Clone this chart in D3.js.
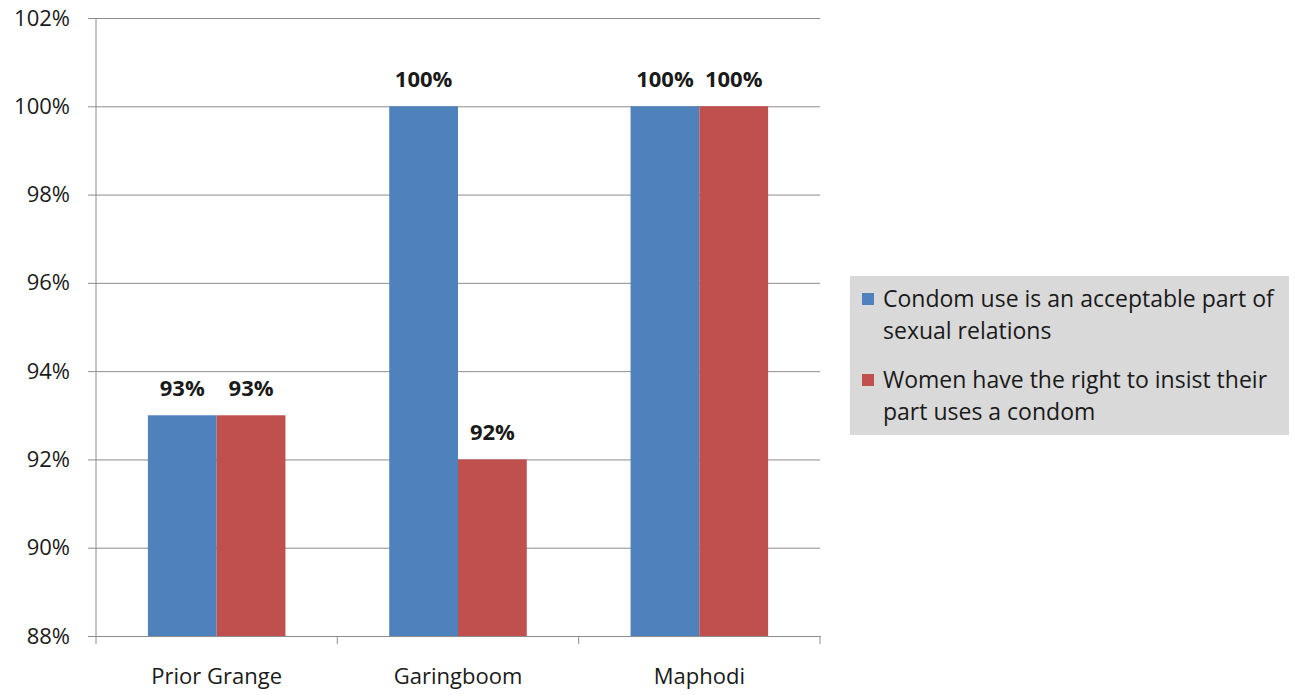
<!DOCTYPE html>
<html>
<head>
<meta charset="utf-8">
<script src="https://cdn.jsdelivr.net/npm/d3@7"></script>
<style>
  body { margin: 0; background: #fff; }
  text { font-family: "Open Sans", sans-serif; fill: #1a1a1a; }
</style>
</head>
<body>
<div id="chart"></div>
<script>
// data
const categories = ["Prior Grange", "Garingboom", "Maphodi"];
const seriesNames = ["Condom use is an acceptable part of sexual relations",
                     "Women have the right to insist their part uses a condom"];
const legendLines = [["Condom use is an acceptable part of", "sexual relations"],
                     ["Women have the right to insist their", "part uses a condom"]];
const condomAcceptable = [0.93, 1.00, 1.00];
const womenInsist = [0.93, 0.92, 1.00];
const yTicks = [0.88, 0.90, 0.92, 0.94, 0.96, 0.98, 1.00, 1.02];
const colors = ["#4f81bd", "#c0504d"];

const series = [condomAcceptable, womenInsist];

const margins = { top: 18, right: 477, bottom: 59, left: 96 };
const width = 1297 - margins.left - margins.right;
const height = 695 - margins.top - margins.bottom;

const svg = d3.select("#chart").append("svg")
    .attr("width", 1297)
    .attr("height", 695);

const g = svg.append("g")
    .attr("transform", "translate(" + margins.left + "," + margins.top + ")");

const xScale = d3.scaleBand()
    .domain(categories)
    .range([0, width])
    .paddingInner(0)
    .paddingOuter(0);

const inner = d3.scaleBand()
    .domain([0, 1])
    .range([xScale.bandwidth() * 0.215, xScale.bandwidth() * 0.785]);

const yScale = d3.scaleLinear()
    .domain([0.88, 1.02])
    .range([height, 0]);

// gridlines + y ticks
g.append("g")
    .call(d3.axisLeft(yScale).tickValues(yTicks).tickSize(-width - 8).tickFormat(d3.format(".0%")))
    .call(ax => ax.select(".domain").remove())
    .call(ax => ax.selectAll(".tick line").attr("stroke", "#8c8c8c").attr("x1", -8).attr("x2", width))
    .call(ax => ax.selectAll(".tick text").attr("x", -26).style("font-size", "22px")
        .style("font-family", "'Open Sans', sans-serif").attr("fill", "#1a1a1a"));

// bars
series.forEach((vals, si) => {
    g.selectAll(".bar" + si)
        .data(vals)
        .enter()
        .append("rect")
        .attr("x", (d, i) => xScale(categories[i]) + inner(si))
        .attr("width", inner.bandwidth())
        .attr("y", d => yScale(d))
        .attr("height", d => height - yScale(d))
        .attr("fill", colors[si]);

    g.selectAll(".lbl" + si)
        .data(vals)
        .enter()
        .append("text")
        .attr("x", (d, i) => xScale(categories[i]) + inner(si) + inner.bandwidth() / 2)
        .attr("y", d => yScale(d) - 19)
        .attr("text-anchor", "middle")
        .style("font-size", "22px")
        .style("font-weight", "bold")
        .text(d => d3.format(".0%")(d));
});

// y axis line
g.append("line")
    .attr("x1", 0).attr("x2", 0)
    .attr("y1", 0).attr("y2", height)
    .attr("stroke", "#8c8c8c");

// x axis
g.append("g")
    .attr("transform", "translate(0," + height + ")")
    .call(d3.axisBottom(xScale).tickSize(0).tickPadding(32))
    .call(ax => ax.select(".domain").attr("stroke", "#8c8c8c"))
    .call(ax => ax.selectAll(".tick text").style("font-size", "22px")
        .style("font-family", "'Open Sans', sans-serif").attr("fill", "#1a1a1a"));

// x tick marks between categories
g.selectAll(".xtick")
    .data(d3.range(categories.length + 1))
    .enter()
    .append("line")
    .attr("x1", i => i * xScale.step())
    .attr("x2", i => i * xScale.step())
    .attr("y1", height)
    .attr("y2", height + 8)
    .attr("stroke", "#8c8c8c");

// legend
const legend = svg.append("g").attr("transform", "translate(850,276)");
legend.append("rect")
    .attr("width", 439)
    .attr("height", 159)
    .attr("fill", "#d9d9d9");

legendLines.forEach((lines, i) => {
    const ly = 31 + i * 81;
    legend.append("rect")
        .attr("x", 12)
        .attr("y", ly - 14)
        .attr("width", 12)
        .attr("height", 12)
        .attr("fill", colors[i]);
    lines.forEach((line, j) => {
        legend.append("text")
            .attr("x", 33)
            .attr("y", ly + j * 32)
            .style("font-size", "23px")
            .text(line);
    });
});
</script>
</body>
</html>
